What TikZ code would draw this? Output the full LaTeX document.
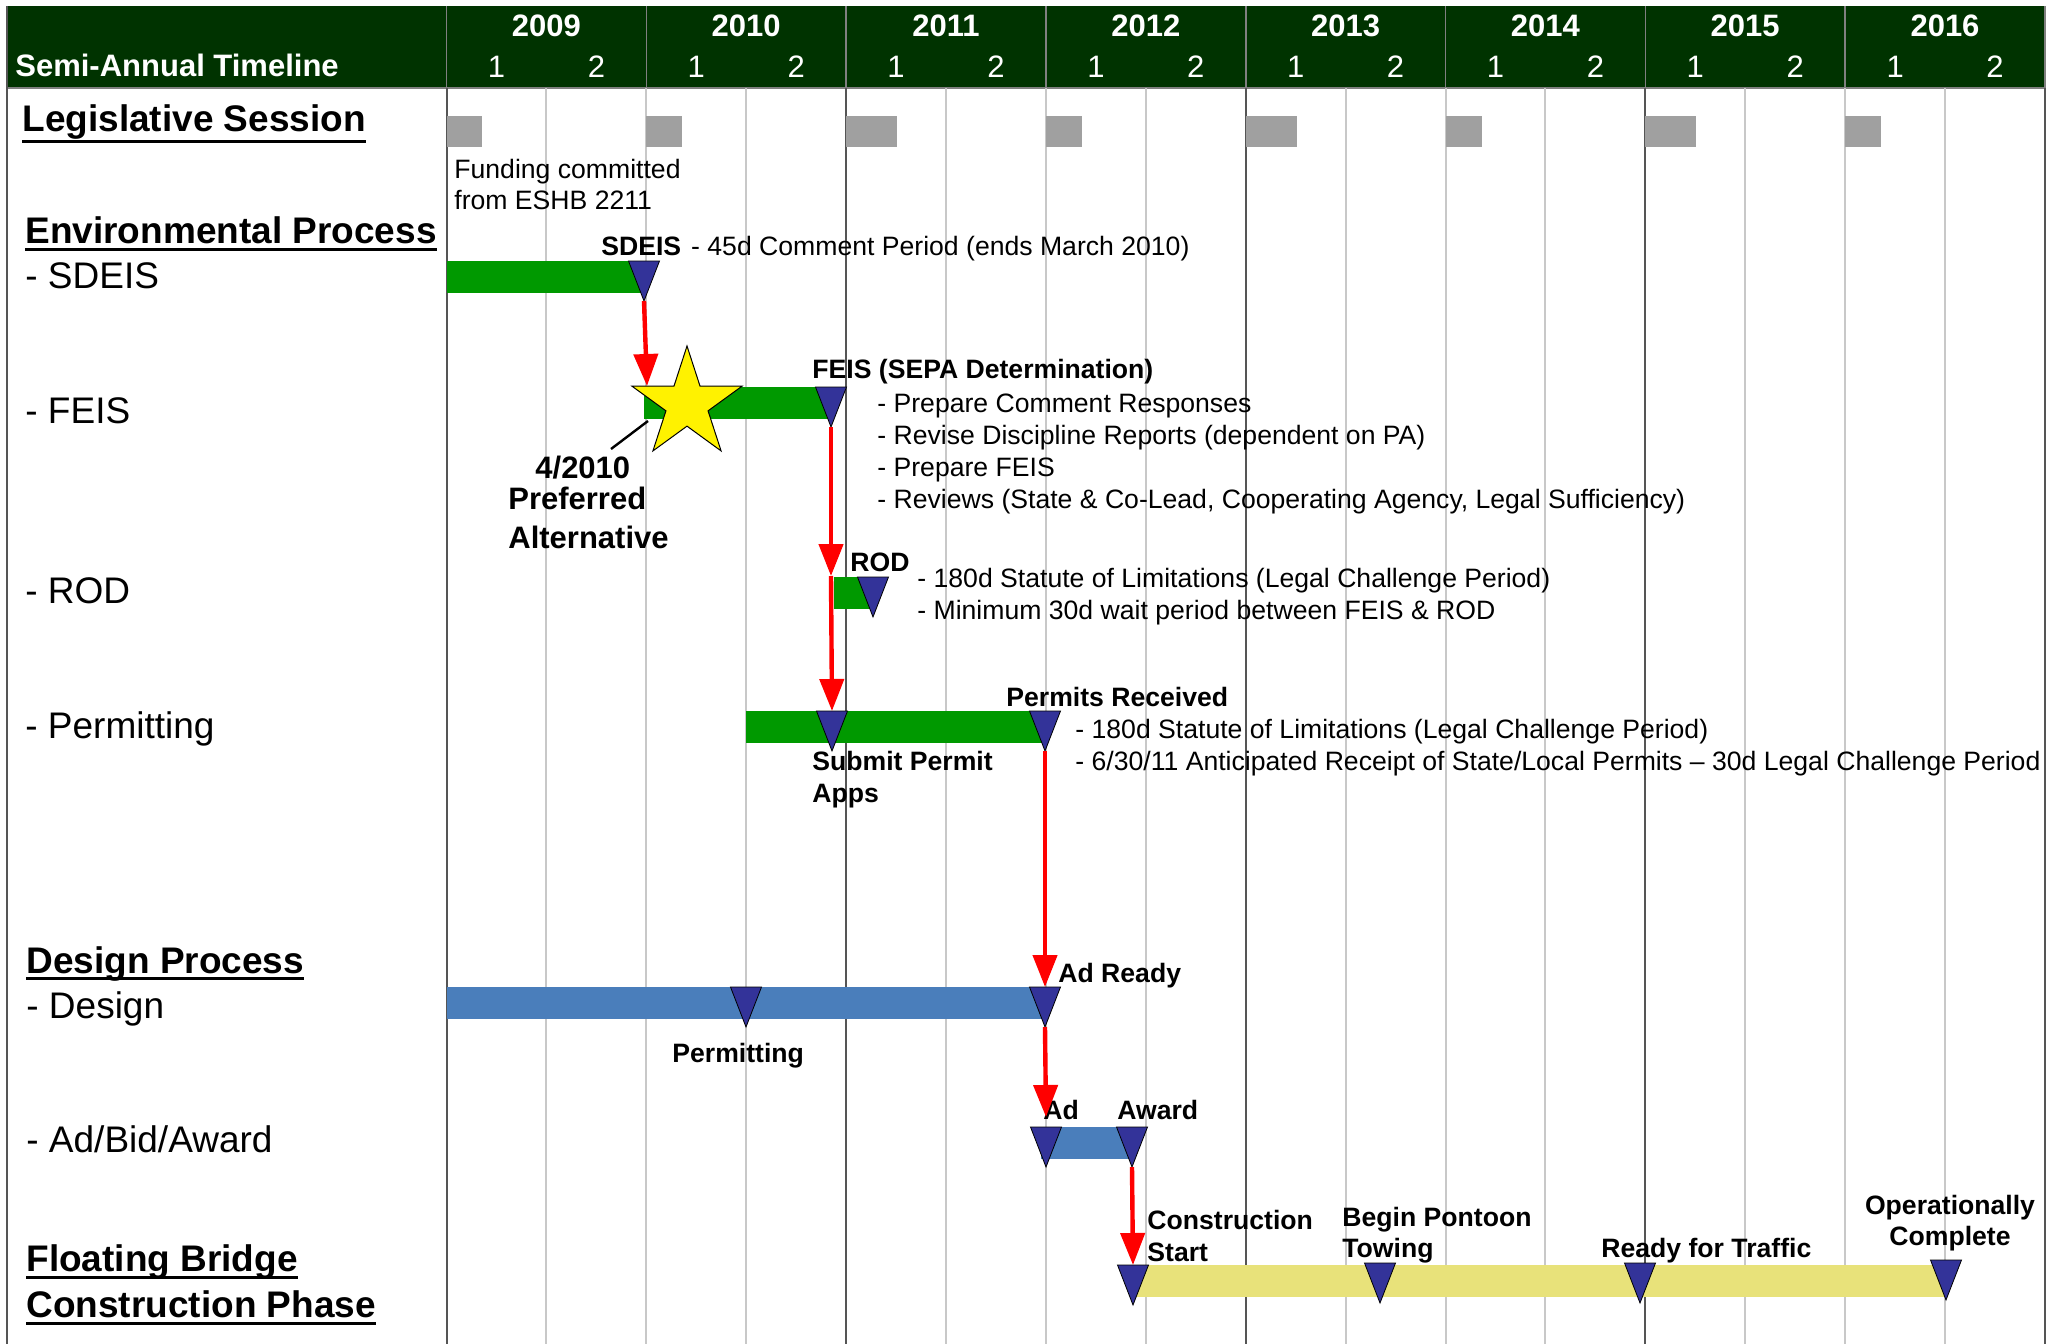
\documentclass[tikz,border=0pt]{standalone}
\usepackage{fontspec}
\setmainfont{Liberation Sans}
\usetikzlibrary{shapes.geometric,arrows.meta}

\definecolor{hdrgreen}{HTML}{003300}
\definecolor{bargreen}{HTML}{009900}
\definecolor{barblue}{HTML}{4A7EBB}
\definecolor{baryellow}{HTML}{E8E27A}
\definecolor{msblue}{HTML}{333399}
\definecolor{sessgray}{HTML}{A0A0A0}
\definecolor{gridlight}{HTML}{C8C8C8}
\definecolor{griddark}{HTML}{555555}

\newcommand\fRow{\fontsize{18.5pt}{22pt}\selectfont}
\newcommand\fNote{\fontsize{13.3pt}{16pt}\selectfont}
\newcommand\fHdr{\fontsize{15.5pt}{18pt}\selectfont}
\newcommand\fPref{\fontsize{15.5pt}{18pt}\selectfont\bfseries}

\begin{document}
\begin{tikzpicture}[x=0.5pt,y=-0.5pt]
    \tikzstyle{every node}+=[inner sep=0pt]
    \tikzstyle{rowlbl}=[anchor=base west, font=\fRow]
    \tikzstyle{sectlbl}=[anchor=base west, font=\fRow\bfseries]
    \tikzstyle{note}=[anchor=base west, font=\fNote]
    \tikzstyle{mslbl}=[anchor=base west, font=\fNote\bfseries]
    \tikzstyle{hdr}=[anchor=base, text=white, font=\fHdr]
    \tikzstyle{link}=[draw=red, line width=2.2pt, -{Triangle[width=12pt,length=16pt]}]
    \tikzset{mstone/.pic={
        \filldraw[fill=msblue, draw=black, line width=0.4pt] (-15.5,0) -- (15.5,0) -- (0,40) -- cycle;
        \coordinate (-top) at (0,0);
        \coordinate (-tip) at (0,40);
    }}
    \useasboundingbox (0,0) rectangle (2051,1344);

    % header
    \fill [hdrgreen] (7,6) rectangle (2044,88);
    \foreach \k in {0,...,8}
        \draw [gray, line width=0.8pt] (446.5+199.8*\k,6) -- (446.5+199.8*\k,88);
    \draw [gray, line width=0.8pt] (7,88) -- (2044,88);
    \node [hdr, anchor=base west, font=\fHdr\bfseries] (title) at (15,76) {Semi-Annual Timeline};
    \foreach \y [count=\i from 0] in {2009,...,2016} {
        \node [hdr, font=\fHdr\bfseries] (yr\y) at (546.4+199.8*\i,36) {\y};
        \node [hdr] (h\y-1) at (496.5+199.8*\i,77) {1};
        \node [hdr] (h\y-2) at (596.4+199.8*\i,77) {2};
    }

    % grid
    \draw [griddark, line width=1pt] (7,6) -- (7,1344);
    \foreach \k in {1,2,3,5,6,7,9,10,11,13,14,15}
        \draw [gridlight, line width=1pt] (446.5+99.9*\k,88) -- (446.5+99.9*\k,1344);
    \foreach \k in {0,4,8,12,16}
        \draw [griddark, line width=1pt] (446.5+99.9*\k,88) -- (446.5+99.9*\k,1344);

    % legislative sessions
    \foreach \k/\w in {0/35,1/36,2/51,3/36,4/51,5/36,6/51,7/36}
        \fill [sessgray] (446.5+199.8*\k,116) rectangle ++(\w,31);

    % row labels
    \node [sectlbl] (legis) at (22,131) {Legislative Session};
    \node [sectlbl] (envir) at (25,243) {Environmental Process};
    \node [rowlbl] (r-sdeis) at (25,288) {- SDEIS};
    \node [rowlbl] (r-feis) at (25,423) {- FEIS};
    \node [rowlbl] (r-rod) at (25,603) {- ROD};
    \node [rowlbl] (r-permit) at (25,738) {- Permitting};
    \node [sectlbl] (desig) at (26,973) {Design Process};
    \node [rowlbl] (r-design) at (26,1018) {- Design};
    \node [rowlbl] (r-adbid) at (26,1152) {- Ad/Bid/Award};
    \node [sectlbl] (floatb) at (26,1271) {Floating Bridge};
    \node [sectlbl] (constr) at (26,1317) {Construction Phase};
    \foreach \n/\d in {legis/5pt,envir/3pt,desig/2.6pt,floatb/3pt,constr/3pt}
        \draw [line width=1.5pt] ([yshift=-\d]\n.base west) -- ([yshift=-\d]\n.base east);

    % bars
    \fill [bargreen] (446.5,261) rectangle (644,293);
    \fill [bargreen] (644,387) rectangle (831,419);
    \fill [bargreen] (834,577) rectangle (873,609);
    \fill [bargreen] (746,711) rectangle (1045,743);
    \fill [barblue] (446.5,987) rectangle (1045,1019);
    \fill [barblue] (1041,1127) rectangle (1132,1159);
    \fill [baryellow] (1134,1265) rectangle (1946,1297);

    \node [star, star points=5, star point ratio=2.62, minimum size=58pt,
           fill=yellow, draw=black, line width=0.5pt] (prefstar) at (687,404) {};

    % milestones
    \pic (sdeis) at (644,261) {mstone};
    \pic (feis) at (831,387) {mstone};
    \pic (rod) at (873,577) {mstone};
    \pic (submit) at (832,711) {mstone};
    \pic (received) at (1045,711) {mstone};
    \pic (dpermit) at (746,987) {mstone};
    \pic (adready) at (1045,987) {mstone};
    \pic (ad) at (1046,1127) {mstone};
    \pic (award) at (1132,1127) {mstone};
    \pic (cstart) at (1133,1265) {mstone};
    \pic (towing) at (1380,1263) {mstone};
    \pic (traffic) at (1640,1263) {mstone};
    \pic (opdone) at (1946,1260) {mstone};

    % texts
    \node [note] (fund1) at (454,178) {Funding committed};
    \node [note] (fund2) at (454,209) {from ESHB 2211};
    \node [note] (sdeis-lbl) at (601,255) {\textbf{SDEIS}\hspace{5pt}- 45d Comment Period (ends March 2010)};
    \node [mslbl] (feis-lbl) at (812,378) {FEIS (SEPA Determination)};
    \node [note] (feis-n1) at (877,412) {- Prepare Comment Responses};
    \node [note] (feis-n2) at (877,444) {- Revise Discipline Reports (dependent on PA)};
    \node [note] (feis-n3) at (877,476) {- Prepare FEIS};
    \node [note] (feis-n4) at (877,508) {- Reviews (State \& Co-Lead, Cooperating Agency, Legal Sufficiency)};
    \node [anchor=base west, font=\fPref] (pa-date) at (535,478) {4/2010};
    \node [anchor=base west, font=\fPref] (pa-pref) at (508,509) {Preferred};
    \node [anchor=base west, font=\fPref] (pa-alt) at (508,548) {Alternative};
    \node [mslbl] (rod-lbl) at (850,571) {ROD};
    \node [note] (rod-n1) at (917,587) {- 180d Statute of Limitations (Legal Challenge Period)};
    \node [note] (rod-n2) at (917,619) {- Minimum 30d wait period between FEIS \& ROD};
    \node [mslbl] (received-lbl) at (1006,706) {Permits Received};
    \node [note] (received-n1) at (1075,738) {- 180d Statute of Limitations (Legal Challenge Period)};
    \node [note] (received-n2) at (1075,770) {- 6/30/11 Anticipated Receipt of State/Local Permits \textendash{} 30d Legal Challenge Period};
    \node [mslbl] (submit-lbl1) at (812,770) {Submit Permit};
    \node [mslbl] (submit-lbl2) at (812,802) {Apps};
    \node [mslbl] (dpermit-lbl) at (672,1062) {Permitting};
    \node [mslbl] (adready-lbl) at (1058,982) {Ad Ready};
    \node [mslbl] (ad-lbl) at (1043,1119) {Ad};
    \node [mslbl] (award-lbl) at (1117,1119) {Award};
    \node [mslbl] (cstart-lbl1) at (1147,1229) {Construction};
    \node [mslbl] (cstart-lbl2) at (1147,1261) {Start};
    \node [mslbl] (towing-lbl1) at (1342,1226) {Begin Pontoon};
    \node [mslbl] (towing-lbl2) at (1342,1257) {Towing};
    \node [mslbl] (traffic-lbl) at (1601,1257) {Ready for Traffic};
    \node [mslbl, anchor=base] (opdone-lbl1) at (1950,1214) {Operationally};
    \node [mslbl, anchor=base] (opdone-lbl2) at (1950,1245) {Complete};

    % connectors
    \coordinate (lead-a) at (648,421);
    \coordinate (lead-b) at (611,449);
    \draw [line width=1.2pt] (lead-a) -- (lead-b);
    \coordinate (feis-in) at (647,386);
    \coordinate (rod-in) at (831,576);
    \coordinate (ad-in) at (1046,1117);
    \draw [link] (sdeis-tip) -- (feis-in);
    \draw [link] (feis-tip) -- (rod-in);
    \draw [link] (rod-in) -- (submit-top);
    \draw [link] (received-tip) -- (adready-top);
    \draw [link] (adready-tip) -- (ad-in);
    \draw [link] (award-tip) -- (cstart-top);
\end{tikzpicture}
\end{document}
